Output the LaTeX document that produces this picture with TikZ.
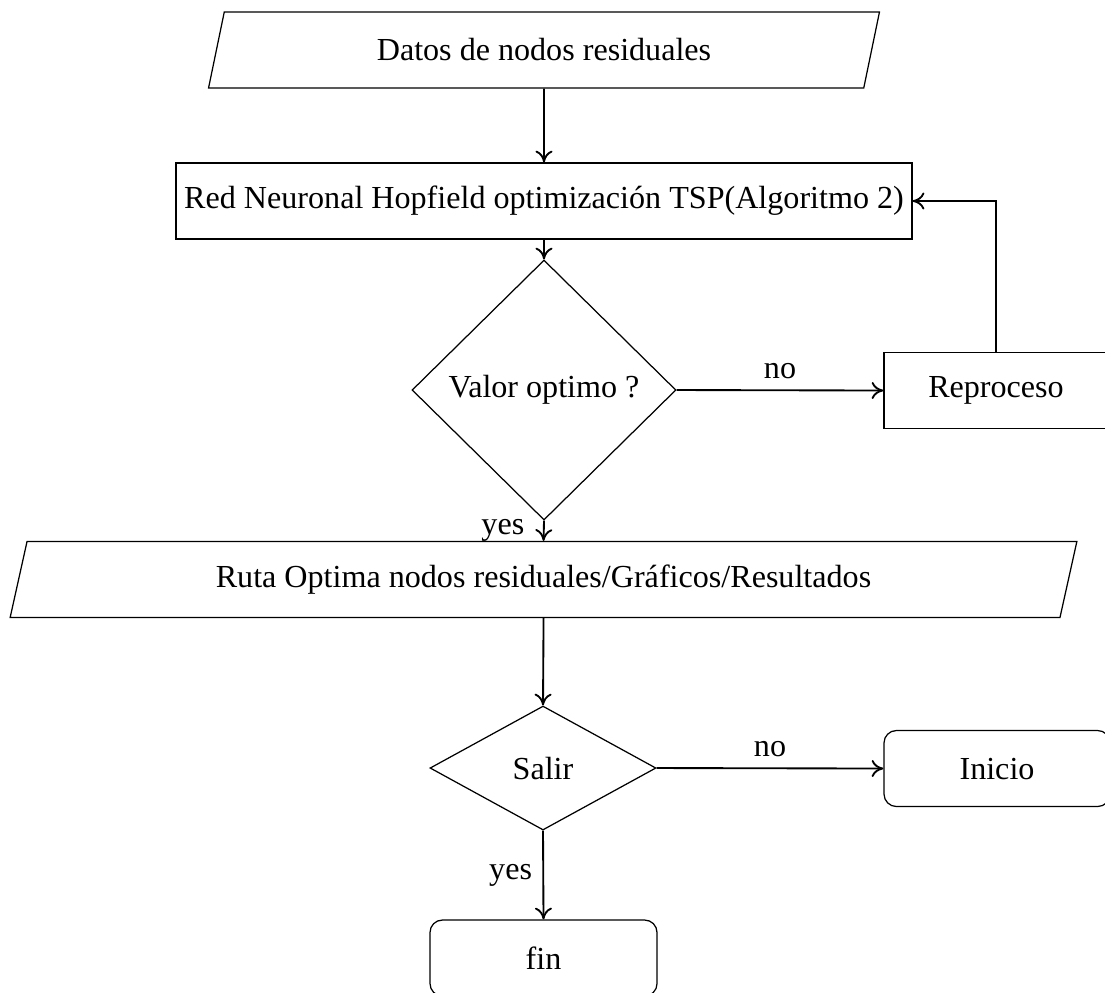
\documentclass[tikz,border=0pt]{standalone}
\usepackage{fontspec}
\setmainfont{Liberation Serif}
\usetikzlibrary{shapes.geometric,arrows.meta}
\newcommand{\pu}[1]{#1*0.3227pt}
\begin{document}
\begin{tikzpicture}[x=0.3227pt, y=-0.3227pt,
  font=\fontsize{10.36}{12.4}\selectfont,
  box/.style={draw, line width=0.4pt, inner sep=0pt, minimum width=\pu{#1}, minimum height=\pu{76}},
  roundbox/.style={box=#1, rounded corners=4pt},
  iobox/.style={draw, line width=0.4pt, trapezium, trapezium left angle=70, trapezium right angle=110,
    trapezium stretches=true, inner sep=0pt, minimum width=\pu{#1}, minimum height=\pu{76}},
  decision/.style={draw, line width=0.4pt, diamond, aspect=1, inner sep=0pt},
  conn/.style={-{To[length=3.8pt,width=5.5pt]}, line width=0.6pt}
]
\useasboundingbox (0,0) rectangle (1105,992);

\node[iobox=672] (datos) at (544,50) {Datos de nodos residuales};
\node[box=736] (red) at (544,201) {Red Neuronal Hopfield optimización TSP(Algoritmo 2)};
\node[decision, minimum width=\pu{264}, minimum height=\pu{260}] (valor) at (544,390) {Valor optimo ?};
\node[box=224] (repro) at (996,390.5) {Reproceso};
\node[iobox=1067] (ruta) at (543.5,579.5) {Ruta Optima nodos residuales/Gráficos/Resultados};
\node[decision, minimum width=\pu{226}, minimum height=\pu{124}] (salir) at (543,768) {Salir};
\node[roundbox=226] (inicio) at (997,768.5) {Inicio};
\node[roundbox=227] (fin) at (543.5,958) {fin};

\draw[conn] (datos.south) -- (red.north);
\draw[conn] (red.south) -- (valor.north);
\draw[conn] (valor.east) -- node[above] {no} (repro.west);
\draw[conn] (repro.north) |- (red.east);
\draw[conn] (valor.south) -- node[left, inner sep=6pt] {yes} (ruta.north);
\draw[conn] (ruta.south) -- (salir.north);
\draw[conn] (salir.east) -- node[above] {no} (inicio.west);
\draw[conn] (salir.south) -- node[left] {yes} (fin.north);
\end{tikzpicture}
\end{document}
